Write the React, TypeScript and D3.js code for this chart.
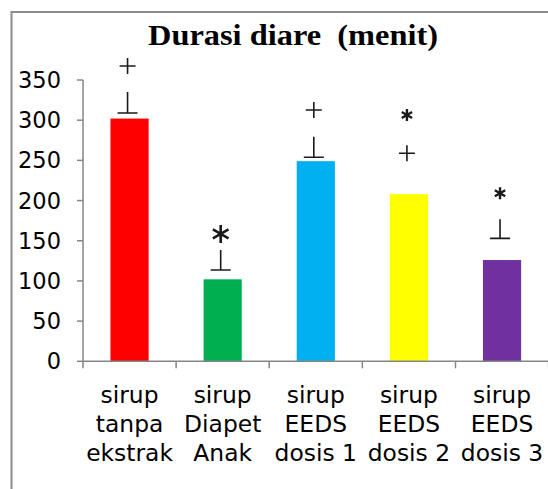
import React, { useEffect, useRef } from 'react';
import * as d3 from 'd3';

const categories = [
  ['sirup', 'tanpa', 'ekstrak'],
  ['sirup', 'Diapet', 'Anak'],
  ['sirup', 'EEDS', 'dosis 1'],
  ['sirup', 'EEDS', 'dosis 2'],
  ['sirup', 'EEDS', 'dosis 3'],
];
const values = [302, 102, 249, 208, 126];
const barColors = ['#ff0000', '#00b050', '#00b0f0', '#ffff00', '#7030a0'];
const yTicks = [0, 50, 100, 150, 200, 250, 300, 350];

// "⊥" marks above bars: [bar index, low value, high value]
const errMarks: [number, number, number][] = [
  [0, 309, 335],
  [1, 113.6, 138.5],
  [2, 253.8, 279.4],
  [4, 153, 176.7],
];
// significance symbols: [bar index, symbol, value at centre, big?]
const symbols: [number, string, number, boolean][] = [
  [0, '+', 367.4, false],
  [2, '+', 312.6, false],
  [3, '+', 258.8, false],
  [3, '*', 306.4, false],
  [1, '*', 158.4, true],
  [4, '*', 209, false],
];

export default function App() {
  const svgRef = useRef<SVGSVGElement>(null);

  useEffect(() => {
    if (!svgRef.current) return;
    const svg = d3.select(svgRef.current);
    svg.selectAll('*').remove();

    const W = 548, H = 489;
    const left = 83, right = 548.6, top = 80, bottom = 361.3;
    const axisColor = '#868686';
    const ink = '#1a1a1a';

    // frame
    svg.append('path')
      .attr('d', `M11.5,${H} L11.5,12 L${W},12`)
      .attr('fill', 'none')
      .attr('stroke', '#8c8c8c')
      .attr('stroke-width', 2);

    svg.append('text')
      .attr('x', 148)
      .attr('y', 44.5)
      .attr('font-family', '"Liberation Serif", "Times New Roman", serif')
      .attr('font-weight', 'bold')
      .attr('font-size', 29)
      .attr('xml:space', 'preserve')
      .attr('textLength', 290)
      .attr('lengthAdjust', 'spacingAndGlyphs')
      .attr('fill', '#000')
      .text('Durasi diare  (menit)');

    const x = d3.scaleBand<number>()
      .domain(d3.range(values.length))
      .range([left, right])
      .paddingInner(0.59)
      .paddingOuter(0.295);
    const band = (right - left) / values.length;
    const cx = (i: number) => left + band * (i + 0.5);

    const y = d3.scaleLinear().domain([0, 350]).range([bottom, top]);

    // y axis
    svg.append('line')
      .attr('x1', left).attr('x2', left)
      .attr('y1', y(350)).attr('y2', y(0))
      .attr('stroke', axisColor).attr('stroke-width', 1.5);
    const yt = svg.append('g');
    yt.selectAll('line').data(yTicks).enter().append('line')
      .attr('x1', left - 6).attr('x2', left)
      .attr('y1', d => y(d)).attr('y2', d => y(d))
      .attr('stroke', axisColor).attr('stroke-width', 1.5);
    yt.selectAll('text').data(yTicks).enter().append('text')
      .attr('x', 61)
      .attr('y', d => y(d))
      .attr('dy', '0.36em')
      .attr('text-anchor', 'end')
      .attr('font-family', '"DejaVu Sans", Verdana, sans-serif')
      .attr('font-size', 22.5)
      .attr('fill', '#000')
      .text(d => String(d));

    // bars
    svg.selectAll('rect.bar').data(values).enter().append('rect')
      .attr('class', 'bar')
      .attr('x', (d, i) => x(i) as number)
      .attr('width', x.bandwidth())
      .attr('y', d => y(d))
      .attr('height', d => y(0) - y(d))
      .attr('fill', (d, i) => barColors[i]);

    // x axis
    svg.append('line')
      .attr('x1', left).attr('x2', W)
      .attr('y1', bottom).attr('y2', bottom)
      .attr('stroke', axisColor).attr('stroke-width', 1.5);
    svg.selectAll('line.xt').data(d3.range(values.length + 1)).enter().append('line')
      .attr('class', 'xt')
      .attr('x1', i => left + band * i).attr('x2', i => left + band * i)
      .attr('y1', bottom).attr('y2', bottom + 7)
      .attr('stroke', axisColor).attr('stroke-width', 1.5);

    // category labels
    const lab = svg.selectAll('text.cat').data(categories).enter().append('text')
      .attr('class', 'cat')
      .attr('text-anchor', 'middle')
      .attr('font-family', '"DejaVu Sans", Verdana, sans-serif')
      .attr('font-size', 23.4)
      .attr('fill', '#000');
    lab.each(function (lines, i) {
      d3.select(this).selectAll('tspan').data(lines).enter().append('tspan')
        .attr('x', cx(i))
        .attr('y', (d, j) => 403 + j * 29)
        .text(d => d);
    });

    // ⊥ marks
    const em = svg.append('g').attr('stroke', ink).attr('stroke-width', 1.6).attr('fill', 'none');
    errMarks.forEach(([i, lo, hi]) => {
      const c = cx(i) - 2;
      em.append('path')
        .attr('d', `M${c - 10},${y(lo)} L${c + 10},${y(lo)} M${c},${y(lo)} L${c},${y(hi)}`);
    });

    // + and * symbols
    const sg = svg.append('g').attr('stroke', ink).attr('fill', 'none');
    symbols.forEach(([i, s, v, big]) => {
      const c = cx(i) - 2;
      const cy = y(v);
      if (s === '+') {
        const r = 8;
        sg.append('path')
          .attr('stroke-width', 1.6)
          .attr('d', `M${c - r},${cy} L${c + r},${cy} M${c},${cy - r} L${c},${cy + r}`);
      } else {
        const r = big ? 9 : 6;
        const p = d3.path();
        [90, 30, 150].forEach(a => {
          const rad = (a * Math.PI) / 180;
          p.moveTo(c - r * Math.cos(rad), cy - r * Math.sin(rad));
          p.lineTo(c + r * Math.cos(rad), cy + r * Math.sin(rad));
        });
        sg.append('path')
          .attr('stroke-width', big ? 2.6 : 2.4)
          .attr('d', p.toString());
      }
    });
  }, []);

  return (
    <svg ref={svgRef} width={548} height={489}
      style={{ position: 'absolute', left: 0, top: 0, background: '#fff' }} />
  );
}
